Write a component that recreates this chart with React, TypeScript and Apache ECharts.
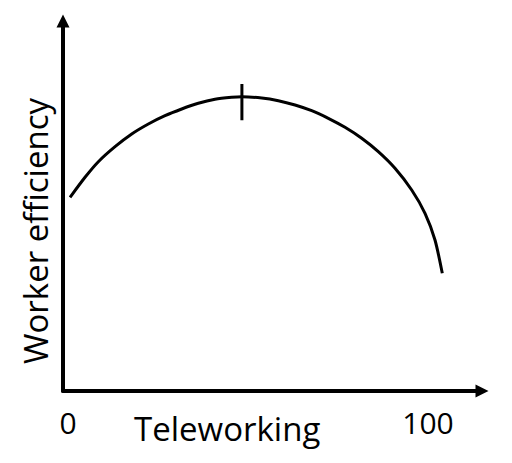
import React, { useEffect, useRef } from "react";
import * as echarts from "echarts";

// Curve: teleworking share (x) vs worker efficiency (y)
const teleworking = [0.56, 4.72, 8.42, 13.06, 17.69, 22.31, 26.94, 31.58, 36.19, 40.83, 45.47, 48.3, 53.81, 58.42, 63.06, 67.69, 72.31, 76.94, 81.58, 86.19, 90.83, 95.47, 99.17, 101.94, 103.97];
const efficiency = [52.35, 57.76, 61.97, 66.03, 69.46, 72.16, 74.41, 76.22, 77.76, 78.84, 79.38, 79.54, 79.19, 78.46, 77.3, 75.76, 73.7, 71.27, 68.3, 64.68, 60.19, 54.32, 48.03, 40.81, 31.81];
// Peak marker (short vertical tick)
const peakX = [48.3, 48.3];
const peakY = [73.2, 83.0];
const xTickLabels = [0, 100];
const xAxisTitle = "Teleworking";
const yAxisTitle = "Worker efficiency";

const FONT = "'Open Sans', 'Noto Sans', sans-serif";

export default function App() {
  const ref = useRef<HTMLDivElement>(null);
  useEffect(() => {
    document.body.style.margin = "0";
    if (!ref.current) return;
    const chart = echarts.init(ref.current, undefined, { renderer: "svg" });
    const axisLine = {
      show: true,
      onZero: false,
      symbol: ["none", "triangle"],
      symbolSize: [13, 13],
      lineStyle: { color: "#000", width: 4 },
    };
    chart.setOption({
      animation: false,
      backgroundColor: "#fff",
      grid: { left: 63, right: 30, top: 21, bottom: 72, containLabel: false },
      xAxis: {
        type: "value",
        min: -1.4,
        max: 115,
        axisLine,
        axisTick: { show: false },
        splitLine: { show: false },
        axisLabel: {
          customValues: xTickLabels,
          showMinLabel: true,
          showMaxLabel: true,
          fontFamily: FONT,
          fontSize: 30,
          color: "#000",
          margin: 16,
        },
      },
      yAxis: {
        type: "value",
        min: 0,
        max: 100,
        axisLine,
        axisTick: { show: false },
        splitLine: { show: false },
        axisLabel: { show: false },
      },
      graphic: [
        {
          type: "text",
          left: 134,
          top: 412,
          style: { text: xAxisTitle, fontFamily: FONT, fontSize: 33, fill: "#000" },
        },
        {
          type: "text",
          x: 19,
          y: 364,
          rotation: Math.PI / 2,
          style: { text: yAxisTitle, fontFamily: FONT, fontSize: 33, fill: "#000", textAlign: "left", textVerticalAlign: "top" },
        },
      ],
      series: [
        {
          type: "line",
          data: teleworking.map((x, i) => [x, efficiency[i]]),
          smooth: 0.25,
          showSymbol: false,
          lineStyle: { color: "#000", width: 3 },
        },
        {
          type: "line",
          data: peakX.map((x, i) => [x, peakY[i]]),
          showSymbol: false,
          lineStyle: { color: "#000", width: 3 },
        },
      ],
    });
    return () => chart.dispose();
  }, []);
  return <div ref={ref} style={{ width: 512, height: 463 }} />;
}
